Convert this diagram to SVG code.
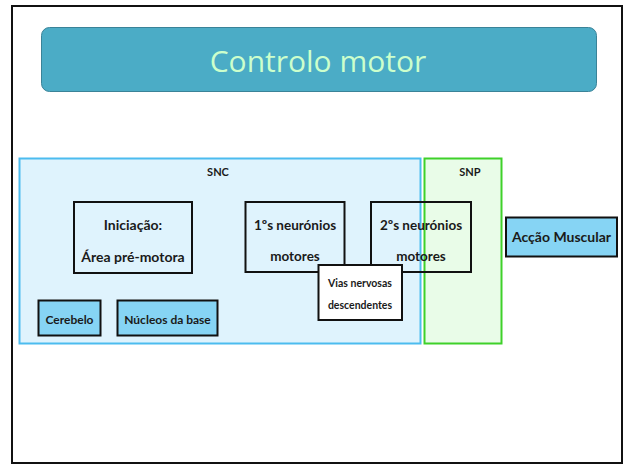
<svg xmlns="http://www.w3.org/2000/svg" width="628" height="465" viewBox="0 0 628 465">
  <style>
    .lbl { font-family: Lato, "Open Sans", "Liberation Sans", sans-serif; font-weight: bold; fill: #1a1a1a; text-anchor: middle; }
    .box { fill: none; stroke: #111; stroke-width: 2; }
    .boxw { fill: #ffffff; stroke: #111; stroke-width: 2; }
    .boxb { fill: #86d4f4; stroke: #111; stroke-width: 2; }
    .m { font-size: 14px; }
    .n { font-size: 13.5px; }
    .s { font-size: 12px; }
    .xs { font-size: 10.5px; }
  </style>

  <!-- slide frame -->
  <rect x="0" y="0" width="628" height="465" fill="#ffffff"/>
  <rect x="12" y="6" width="610" height="457" fill="none" stroke="#111" stroke-width="2"/>

  <!-- title banner -->
  <g id="title">
    <rect x="41.5" y="27.5" width="555" height="64" rx="8" ry="8" fill="#4bacc6" stroke="#3a8398" stroke-width="1"/>
    <text x="318" y="72" font-family="'Open Sans', 'Noto Sans', sans-serif" font-size="30" fill="#ccffcc" text-anchor="middle">Controlo motor</text>
  </g>

  <!-- central nervous system region -->
  <g id="snc">
    <rect x="19.5" y="158.5" width="401" height="185" fill="#dff3fd" stroke="#4cbcef" stroke-width="2"/>
    <text class="lbl" x="218" y="176" font-size="11">SNC</text>
  </g>

  <!-- peripheral nervous system region -->
  <g id="snp">
    <rect x="424.5" y="158.5" width="77" height="185" fill="#e9fce8" stroke="#3fd12a" stroke-width="2"/>
    <text class="lbl" x="470" y="176" font-size="11">SNP</text>
  </g>

  <g id="iniciacao">
    <rect class="box" x="74" y="202" width="118" height="71"/>
    <text class="lbl m" x="133" y="230">Iniciação:</text>
    <text class="lbl m" x="133" y="262">Área pré-motora</text>
  </g>

  <g id="neuronios1">
    <rect class="box" x="245.5" y="202" width="99" height="70"/>
    <text class="lbl n" x="295" y="230">1ºs neurónios</text>
    <text class="lbl n" x="295" y="261">motores</text>
  </g>

  <g id="neuronios2">
    <rect class="box" x="371" y="202" width="100" height="70"/>
    <text class="lbl n" x="421" y="230">2ºs neurónios</text>
    <text class="lbl n" x="421" y="261">motores</text>
  </g>

  <g id="vias">
    <rect class="boxw" x="318.5" y="265" width="83.5" height="55"/>
    <text class="lbl xs" x="360" y="287">Vias nervosas</text>
    <text class="lbl xs" x="360" y="309">descendentes</text>
  </g>

  <g id="cerebelo">
    <rect class="boxb" x="38.5" y="300.5" width="62" height="35"/>
    <text class="lbl s" x="69.5" y="324">Cerebelo</text>
  </g>

  <g id="nucleos">
    <rect class="boxb" x="117.5" y="300.5" width="100" height="35"/>
    <text class="lbl s" x="167.5" y="324">Núcleos da base</text>
  </g>

  <g id="accao">
    <rect class="boxb" x="506" y="217.5" width="111" height="39"/>
    <text class="lbl m" x="561.5" y="242">Acção Muscular</text>
  </g>

  <!-- no connectors are drawn between the nodes -->
  <g id="connectors"/>
</svg>
